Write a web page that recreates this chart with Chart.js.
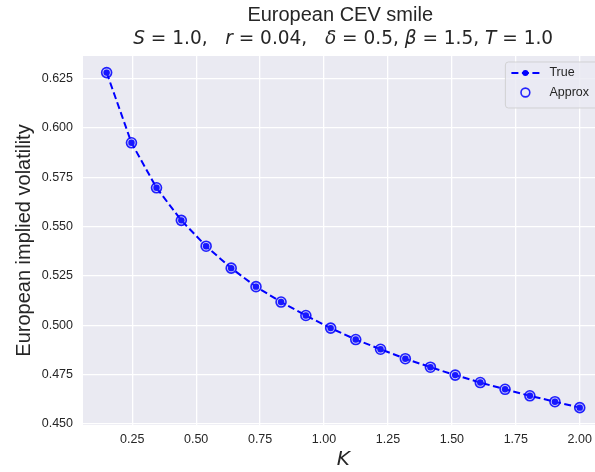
<!DOCTYPE html>
<html>
<head>
<meta charset="utf-8">
<script src="https://cdn.jsdelivr.net/npm/chart.js@4.4.1/dist/chart.umd.min.js"></script>
<style>
  html, body { margin: 0; padding: 0; background: #fff; overflow: hidden; }
  #wrap { width: 610px; height: 472px; }
</style>
</head>
<body>
<div id="wrap"><canvas id="smile" width="610" height="472"></canvas></div>
<script>
// strikes and implied vols of the CEV smile
const strikes = [0.15, 0.247, 0.345, 0.442, 0.539, 0.637, 0.734, 0.832, 0.929, 1.026,
                 1.124, 1.221, 1.318, 1.416, 1.513, 1.611, 1.708, 1.805, 1.903, 2.0];
const trueVol = [0.6281, 0.5925, 0.5697, 0.5532, 0.5401, 0.5290, 0.5196, 0.5118, 0.5050, 0.4986,
                 0.4928, 0.4879, 0.4831, 0.4788, 0.4748, 0.4710, 0.4676, 0.4643, 0.4613, 0.4583];
const approxVol = [0.6281, 0.5925, 0.5697, 0.5532, 0.5401, 0.5290, 0.5196, 0.5118, 0.5050, 0.4986,
                   0.4928, 0.4879, 0.4831, 0.4788, 0.4748, 0.4710, 0.4676, 0.4643, 0.4613, 0.4583];
const xTicks = [0.25, 0.5, 0.75, 1.0, 1.25, 1.5, 1.75, 2.0];
const yTicks = [0.450, 0.475, 0.500, 0.525, 0.550, 0.575, 0.600, 0.625];

const TEXT = '#262626';
const BLUE = '#0000ff';

const pts = (xs, ys) => xs.map((x, i) => ({ x: x, y: ys[i] }));

// seaborn-like axes background
const axesBg = {
  id: 'axesBg',
  beforeDraw(chart) {
    const { ctx, chartArea: a } = chart;
    ctx.save();
    ctx.fillStyle = '#eaeaf2';
    ctx.fillRect(a.left, a.top, a.right - a.left, a.bottom - a.top);
    ctx.restore();
  }
};

// two-line title, second line with italic symbols
const titleLines = {
  id: 'titleLines',
  afterDraw(chart) {
    const { ctx, chartArea: a } = chart;
    const cx = (a.left + a.right) / 2;
    ctx.save();
    ctx.fillStyle = TEXT;
    ctx.textBaseline = 'alphabetic';
    ctx.textAlign = 'center';
    ctx.font = '20px "Liberation Sans", Arial, sans-serif';
    ctx.fillText('European CEV smile', cx - 3, 21);

    const parts = [
      ['S', 1], [' = 1.0,   ', 0], ['r', 1], [' = 0.04,   ', 0],
      ['δ', 1], [' = 0.5, ', 0], ['β', 1], [' = 1.5, ', 0], ['T', 1], [' = 1.0', 0]
    ];
    const fontFor = (italic, size) =>
      (italic ? 'italic ' : '') + size + 'px "DejaVu Sans", sans-serif';
    let w = 0;
    parts.forEach(p => { ctx.font = fontFor(p[1], 20); w += ctx.measureText(p[0]).width; });
    const size = 20 * 420 / w;
    let x = cx - 210;
    ctx.textAlign = 'left';
    parts.forEach(p => {
      ctx.font = fontFor(p[1], size);
      ctx.fillText(p[0], x, 44);
      x += ctx.measureText(p[0]).width;
    });
    ctx.restore();
  }
};

// legend box in the upper right corner of the axes
const cornerLegend = {
  id: 'cornerLegend',
  afterDraw(chart) {
    const { ctx, chartArea: a } = chart;
    const bx = a.right - 98, by = a.top + 6, bw = 93, bh = 46;
    ctx.save();
    ctx.beginPath();
    ctx.roundRect(bx, by, bw, bh, 3);
    ctx.fillStyle = 'rgba(234,234,242,0.8)';
    ctx.fill();
    ctx.strokeStyle = 'rgba(204,204,204,0.8)';
    ctx.lineWidth = 1;
    ctx.stroke();

    const y1 = by + 11, y2 = by + 30.5;
    const lx0 = bx + 6, lx1 = bx + 34;
    ctx.strokeStyle = BLUE;
    ctx.lineWidth = 2;
    ctx.setLineDash([7, 3.5]);
    ctx.beginPath();
    ctx.moveTo(lx0, y1);
    ctx.lineTo(lx1, y1);
    ctx.stroke();
    ctx.setLineDash([]);
    ctx.fillStyle = BLUE;
    ctx.beginPath();
    ctx.arc((lx0 + lx1) / 2, y1, 3, 0, Math.PI * 2);
    ctx.fill();

    ctx.strokeStyle = 'rgba(0,0,255,0.85)';
    ctx.lineWidth = 1.6;
    ctx.beginPath();
    ctx.arc((lx0 + lx1) / 2, y2, 4.4, 0, Math.PI * 2);
    ctx.stroke();

    ctx.fillStyle = TEXT;
    ctx.font = '12.5px "Liberation Sans", Arial, sans-serif';
    ctx.textBaseline = 'middle';
    ctx.fillText('True', bx + 44, y1);
    ctx.fillText('Approx', bx + 44, y2);
    ctx.restore();
  }
};

new Chart(document.getElementById('smile'), {
  type: 'line',
  data: {
    datasets: [
      {
        label: 'Approx',
        data: pts(strikes, approxVol),
        showLine: false,
        pointStyle: 'circle',
        pointRadius: 5,
        pointBorderWidth: 1.6,
        pointBorderColor: 'rgba(0,0,255,0.85)',
        pointBackgroundColor: 'rgba(90,90,255,0.25)'
      },
      {
        label: 'True',
        data: pts(strikes, trueVol),
        borderColor: BLUE,
        borderWidth: 2,
        borderDash: [7, 3.5],
        tension: 0,
        fill: false,
        pointRadius: 3.2,
        pointBorderWidth: 0,
        pointBackgroundColor: BLUE
      }
    ]
  },
  options: {
    responsive: false,
    animation: false,
    devicePixelRatio: 1,
    layout: { padding: { top: 56, right: 5, left: 0, bottom: 0 } },
    plugins: {
      legend: { display: false },
      tooltip: { enabled: false },
      title: { display: false }
    },
    scales: {
      x: {
        type: 'linear',
        min: 0.0575,
        max: 2.0925,
        afterBuildTicks: s => { s.ticks = xTicks.map(v => ({ value: v })); },
        afterFit: s => { s.height = 47; },
        grid: { color: '#ffffff', lineWidth: 1.3, drawTicks: false },
        border: { display: false },
        ticks: {
          padding: 7,
          color: TEXT,
          font: { family: '"Liberation Sans", Arial, sans-serif', size: 12.5 },
          callback: v => v.toFixed(2),
          maxRotation: 0
        },
        title: {
          display: true,
          text: 'K',
          color: TEXT,
          padding: { top: 0, bottom: 0 },
          font: { family: '"DejaVu Sans", sans-serif', size: 20, style: 'italic' }
        }
      },
      y: {
        type: 'linear',
        min: 0.4495,
        max: 0.6365,
        afterBuildTicks: s => { s.ticks = yTicks.map(v => ({ value: v })); },
        afterFit: s => { s.width = 83; },
        grid: { color: '#ffffff', lineWidth: 1.3, drawTicks: false },
        border: { display: false },
        ticks: {
          padding: 10,
          color: TEXT,
          font: { family: '"Liberation Sans", Arial, sans-serif', size: 12.5 },
          callback: v => v.toFixed(3)
        },
        title: {
          display: true,
          text: 'European implied volatility',
          color: TEXT,
          padding: { top: 12, bottom: 0 },
          font: { family: '"Liberation Sans", Arial, sans-serif', size: 20 }
        }
      }
    }
  },
  plugins: [axesBg, titleLines, cornerLegend]
});
</script>
</body>
</html>
